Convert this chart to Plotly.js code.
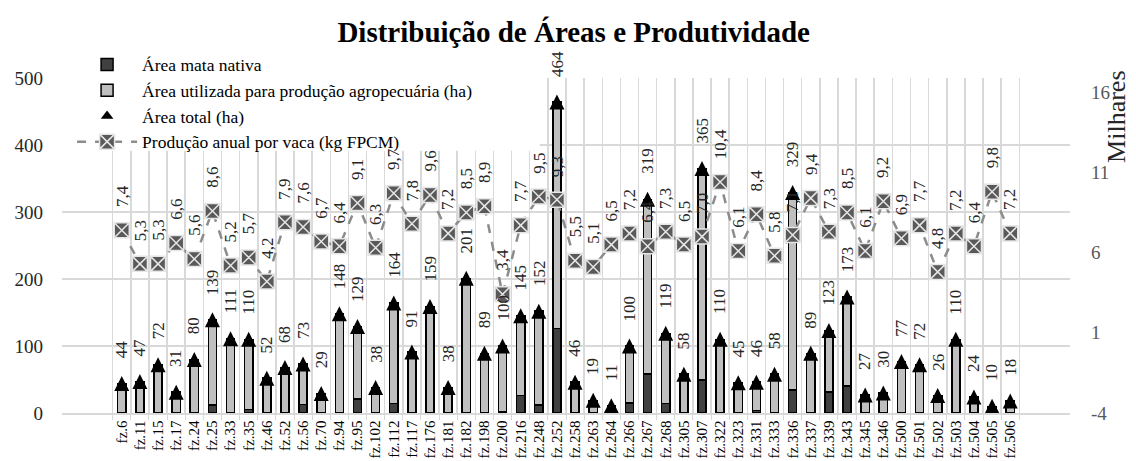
<!DOCTYPE html>
<html>
<head>
<meta charset="utf-8">
<script src="https://cdn.plot.ly/plotly-3.0.1.min.js"></script>
<style>html,body{margin:0;padding:0;background:#fff;}#chart{width:1136px;height:461px;}</style>
</head>
<body>
<div id="chart"></div>
<script>
var categories = ['fz.6','fz.11','fz.15','fz.17','fz.24','fz.25','fz.33','fz.35','fz.46','fz.52','fz.56','fz.70','fz.94','fz.95','fz.102','fz.112','fz.117','fz.176','fz.181','fz.182','fz.198','fz.200','fz.216','fz.248','fz.252','fz.258','fz.263','fz.264','fz.266','fz.267','fz.268','fz.305','fz.307','fz.322','fz.323','fz.331','fz.333','fz.336','fz.337','fz.339','fz.343','fz.345','fz.346','fz.500','fz.501','fz.502','fz.503','fz.504','fz.505','fz.506'];
var areaTotal = [44,47,72,31,80,139,111,110,52,68,73,29,148,129,38,164,91,159,38,201,89,100,145,152,464,46,19,11,100,319,119,58,365,110,45,46,58,329,89,123,173,27,30,77,72,26,110,24,10,18];
var areaMataNativa = [0,0,0,0,0,12,0,5,0,0,13,0,0,21,0,14,0,0,0,0,0,2,26,12,126,0,0,0,15,58,14,0,49,0,0,4,0,34,0,31,40,0,0,0,0,0,0,0,0,0];
var areaUtilizada = [44,47,72,31,80,127,111,105,52,68,60,29,148,108,38,150,91,159,38,201,89,98,119,140,338,46,19,11,85,261,105,58,316,110,45,42,58,295,89,92,133,27,30,77,72,26,110,24,10,18];
var producaoFPCM = [7.4,5.3,5.3,6.6,5.6,8.6,5.2,5.7,4.2,7.9,7.6,6.7,6.4,9.1,6.3,9.7,7.8,9.6,7.2,8.5,8.9,3.4,7.7,9.5,9.3,5.5,5.1,6.5,7.2,6.4,7.3,6.5,7.0,10.4,6.1,8.4,5.8,7.1,9.4,7.3,8.5,6.1,9.2,6.9,7.7,4.8,7.2,6.4,9.8,7.2];
var leftTicks = [0,100,200,300,400,500];
var rightTicks = [-4,1,6,11,16];

var FONT = 'Liberation Serif, Times New Roman, serif';

var traces = [
  {type:'bar', name:'Área mata nativa', x:categories, y:areaMataNativa, yaxis:'y',
   marker:{color:'#404040', line:{color:'#000', width:1.5}}},
  {type:'bar', name:'Área utilizada para produção agropecuária (ha)', x:categories, y:areaUtilizada, yaxis:'y',
   marker:{color:'#bfbfbf', line:{color:'#000', width:1.5}}},
  {type:'scatter', mode:'markers', name:'Área total (ha)', x:categories, y:areaTotal, yaxis:'y3',
   showlegend:false, marker:{symbol:'arrow-up', size:15, color:'#000', line:{width:0}}},
  {type:'scatter', mode:'markers', name:'Área total (ha)', x:[null], y:[null], yaxis:'y',
   marker:{symbol:'triangle-up', size:11, color:'#000'}},
  {type:'scatter', mode:'lines+markers', name:'Produção anual por vaca (kg FPCM)', x:categories, y:producaoFPCM, yaxis:'y2',
   line:{color:'#8c8c8c', width:2.5, dash:'dash'},
   marker:{symbol:'square-x', size:15, color:'#595959', line:{color:'#e6e6e6', width:1.5}}}
];

var annotations = [];
categories.forEach(function(c, i){
  annotations.push({x:c, y:areaTotal[i], xref:'x', yref:'y', text:String(areaTotal[i]), textangle:-90,
    showarrow:false, yanchor:'bottom', xanchor:'center', yshift:23, font:{family:FONT, size:17, color:'#262626'}});
  annotations.push({x:c, y:producaoFPCM[i], xref:'x', yref:'y2', text:producaoFPCM[i].toFixed(1).replace('.', ','), textangle:-90,
    showarrow:false, yanchor:'bottom', xanchor:'center', yshift:21, font:{family:FONT, size:17, color:'#262626'}});
});
annotations.push({x:1.046, y:0.885, xref:'paper', yref:'paper', text:'Milhares', textangle:-90, showarrow:false,
  xanchor:'center', yanchor:'middle', borderpad:0, font:{family:FONT, size:26, color:'#262626'}});

var layout = {
  width:1136, height:461,
  margin:{l:62, r:66, t:78, b:48},
  paper_bgcolor:'#fff', plot_bgcolor:'#fff',
  font:{family:FONT, color:'#000'},
  title:{text:'<b>Distribuição de Áreas e Produtividade</b>', font:{family:FONT, size:29, color:'#000'},
    x:0.505, xref:'container', y:0.93, yref:'container', yanchor:'middle'},
  barmode:'stack', bargap:0.55,
  showlegend:true,
  legend:{x:0.01, xanchor:'left', y:1.094, yanchor:'top', bgcolor:'rgba(0,0,0,0)', font:{family:FONT, size:17.5, color:'#000'},
    itemwidth:60, tracegroupgap:0, traceorder:'normal'},
  xaxis:{type:'category', tickangle:-90, tickfont:{family:FONT, size:15, color:'#000'},
    showgrid:true, gridcolor:'#d9d9d9', gridwidth:1.5, tickson:'boundaries', ticks:'outside', ticklen:5, tickcolor:'#d9d9d9',
    showline:true, linecolor:'#d9d9d9', linewidth:1.5, automargin:false},
  yaxis:{range:[0,500], tickvals:leftTicks, ticktext:leftTicks.map(String), showgrid:true, gridcolor:'#d9d9d9', gridwidth:1.5,
    zeroline:false, showline:false, ticks:'', tickfont:{family:FONT, size:19, color:'#262626'}, ticklabelstandoff:18, automargin:false},
  yaxis2:{overlaying:'y', side:'right', range:[-4,16.89], tickvals:rightTicks, ticktext:rightTicks.map(String), showgrid:false,
    zeroline:false, showline:false, ticks:'', tickfont:{family:FONT, size:19, color:'#595959'}, ticklabelstandoff:20, automargin:false},
  yaxis3:{overlaying:'y', range:[-11.2,488.8], visible:false},
  annotations:annotations,
  shapes:[{type:'rect', xref:'paper', yref:'paper', x0:-0.002, x1:0.474, y0:0.783, y1:1.02, layer:'above',
    fillcolor:'#fff', line:{width:0}}]
};

Plotly.newPlot('chart', traces, layout, {displayModeBar:false, staticPlot:true});
</script>
</body>
</html>
